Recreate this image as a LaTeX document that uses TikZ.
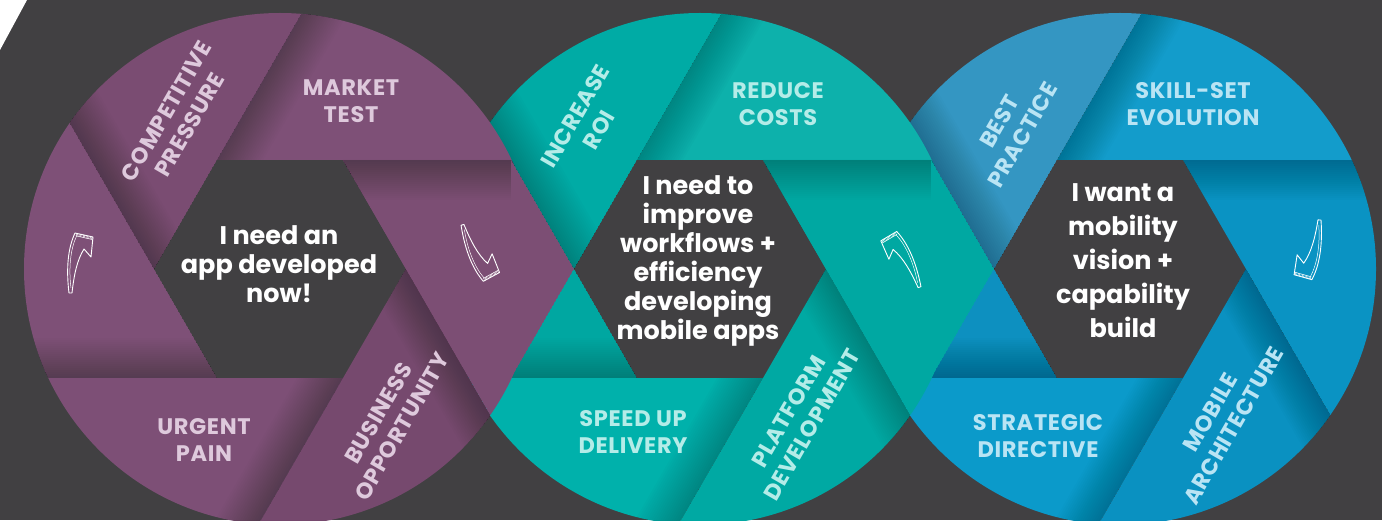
\documentclass[tikz,border=0pt]{standalone}
\usepackage{fontspec}
\setmainfont{Poppins}
\usetikzlibrary{calc}
\definecolor{bg}{HTML}{414042}
\definecolor{p0}{HTML}{7C4E74}
\definecolor{p1}{HTML}{7E5077}
\definecolor{p2}{HTML}{7A4C72}
\definecolor{p3}{HTML}{7E5077}
\definecolor{p4}{HTML}{7D4F76}
\definecolor{p5}{HTML}{76496E}
\definecolor{t0}{HTML}{00A8A2}
\definecolor{t1}{HTML}{0DB1AB}
\definecolor{t2}{HTML}{00ABA5}
\definecolor{t3}{HTML}{00A7A1}
\definecolor{t4}{HTML}{00B1AB}
\definecolor{t5}{HTML}{00A9A3}
\definecolor{b0}{HTML}{0A93C3}
\definecolor{b1}{HTML}{139CCB}
\definecolor{b2}{HTML}{3496C2}
\definecolor{b3}{HTML}{0D90C0}
\definecolor{b4}{HTML}{0B9ACA}
\definecolor{b5}{HTML}{0A91C1}
\definecolor{plab}{HTML}{DEC9DC}
\definecolor{tlab}{HTML}{B4ECE8}
\definecolor{blab}{HTML}{B9E4F4}

\newcommand\mkcirc[2]{%
  \coordinate (#1) at (#2,251);
  \foreach \k in {0,...,5}{%
    \coordinate (#1v\k) at ($(#1)+(60*\k:126)$);
    \coordinate (#1f\k) at ($(#1v\k)+(60*\k-60:420)$);
  }%
}
\newcommand\mkblade[5]{%
  \begin{scope}
    \clip (#1v#3) -- (#1v#2) -- (#1f#2) -- (#1f#3) -- cycle;
    \fill[#4] (#1v#3) -- (#1v#2) -- (#1f#2) -- (#1f#3) -- cycle;
    \foreach \w in {2,4,...,40}{\fill[black,opacity=0.011] (#1v#3) -- (#1f#3) -- ($(#1f#3)+(#5:\w)$) -- ($(#1v#3)+(#5:\w)$) -- cycle;}
  \end{scope}}
\newcommand\mkdisc[7]{%
  \begin{scope}
    \clip (#1) circle (256);
    \mkblade{#1}{0}{1}{#2}{-90}
    \mkblade{#1}{1}{2}{#3}{-30}
    \mkblade{#1}{2}{3}{#4}{30}
    \mkblade{#1}{3}{4}{#5}{90}
    \mkblade{#1}{4}{5}{#6}{150}
    \mkblade{#1}{5}{0}{#7}{210}
  \end{scope}}
\newcommand\mkchev[3]{%
  \coordinate (#1A) at (intersection of #1v1--#1f1 and #2v3--#2f3);
  \coordinate (#2u) at ($(#2v3)+(240:300)$);
  \coordinate (#1B) at (intersection of #1v0--#1f0 and #2v3--#2u);
  \begin{scope}
    \clip (#1v1) -- (#1A) -- (#2v3) -- (#1B) -- (#1v0) -- cycle;
    \fill[#3] (#1v1) -- (#1A) -- (#2v3) -- (#1B) -- (#1v0) -- cycle;
    \foreach \w in {2,4,...,40}{\fill[black,opacity=0.011] (#1v1) -- (#1A) -- ($(#1A)+(-90:\w)$) -- ($(#1v1)+(-90:\w)$) -- cycle;}
  \end{scope}}

\tikzset{
  lab/.style={font=\bfseries\fontsize{22.5}{27}\selectfont\addfontfeature{LetterSpace=3}, align=center, inner sep=0pt},
  ctr/.style={font=\bfseries\fontsize{25.5}{29}\selectfont, text=white, align=center, inner sep=0pt},
  ctrb/.style={font=\bfseries\fontsize{25.5}{34}\selectfont, text=white, align=center, inner sep=0pt},
  sketcharrow/.pic={
    \draw[white, line width=0.9pt, line join=round] (-1,0) .. controls (-4,25) and (-2,45) .. (5,60) -- (23,56) -- (21,36) -- (14,44) .. controls (7,33) and (4,18) .. (2,0) -- cycle;
    \draw[white, line width=0.5pt] (1,5) .. controls (-1.5,25) and (0.5,44) .. (6.5,56.8);
    \draw[white, line width=0.5pt] (5.6,57.2) -- (22.5,53.4);
    \foreach \s in {0.06,0.14,...,0.95}{\draw[white, line width=0.45pt] ($(5,60)!\s!(23,56)$) -- ($(5.6,57.2)!\s!(22.5,53.4)$);}
  }
}

\begin{document}
\begin{tikzpicture}[x=1pt,y=1pt]
\useasboundingbox (0,0) rectangle (1382,520);
\fill[bg] (0,0) rectangle (1382,520);
\fill[white] (0,520) -- (27,520) -- (0,470) -- cycle;

\mkcirc{p}{280}
\mkcirc{t}{700}
\mkcirc{b}{1120}

\mkdisc{b}{b0}{b1}{b2}{b3}{b4}{b5}
\mkdisc{t}{t0}{t1}{t2}{t3}{t4}{t5}
\mkchev{t}{b}{t0}
\mkdisc{p}{p0}{p1}{p2}{p3}{p4}{p5}
\mkchev{p}{t}{p0}

% arrows
\pic (arp1) at (70,227) {sketcharrow};
\pic[rotate=16, yscale=-1] (arp2) at (462,295) {sketcharrow};
\pic[rotate=18, xscale=-1] (art) at (920,233) {sketcharrow};
\pic[rotate=-3, xscale=-1, yscale=-1] (arb) at (1320,300) {sketcharrow};

% purple labels
\node[lab, text=plab] (lmt) at (351,419) {MARKET\\TEST};
\node[lab, text=plab, rotate=60] (lcp) at (178,402) {COMPETITIVE\\PRESSURE};
\node[lab, text=plab] (lup) at (204,80) {URGENT\\PAIN};
\node[lab, text=plab, rotate=60] (lbo) at (390,100) {BUSINESS\\OPPORTUNITY};
% teal labels
\node[lab, text=tlab, rotate=60] (lir) at (587,397) {INCREASE\\ROI};
\node[lab, text=tlab] (lrc) at (778,416) {REDUCE\\COSTS};
\node[lab, text=tlab] (lsu) at (633,88) {SPEED UP\\DELIVERY};
\node[lab, text=tlab, rotate=60] (lpd) at (800,102) {PLATFORM\\DEVELOPMENT};
% blue labels
\node[lab, text=blab, rotate=60] (lbp) at (1011,392) {BEST\\PRACTICE};
\node[lab, text=blab] (lss) at (1193,416) {SKILL-SET\\EVOLUTION};
\node[lab, text=blab] (lsd) at (1038,84) {STRATEGIC\\DIRECTIVE};
\node[lab, text=blab, rotate=60] (lma) at (1222,101) {MOBILE\\ARCHITECTURE};

% centre texts
\node[ctr] (cp) at (279,256) {I need an\\app developed\\now!};
\node[ctr] (ct) at (698,259) {I need to\\improve\\workflows +\\efficiency\\developing\\mobile apps};
\node[ctrb] (cb) at (1123,259) {I want a\\mobility\\vision +\\capability\\build};
\end{tikzpicture}
\end{document}
